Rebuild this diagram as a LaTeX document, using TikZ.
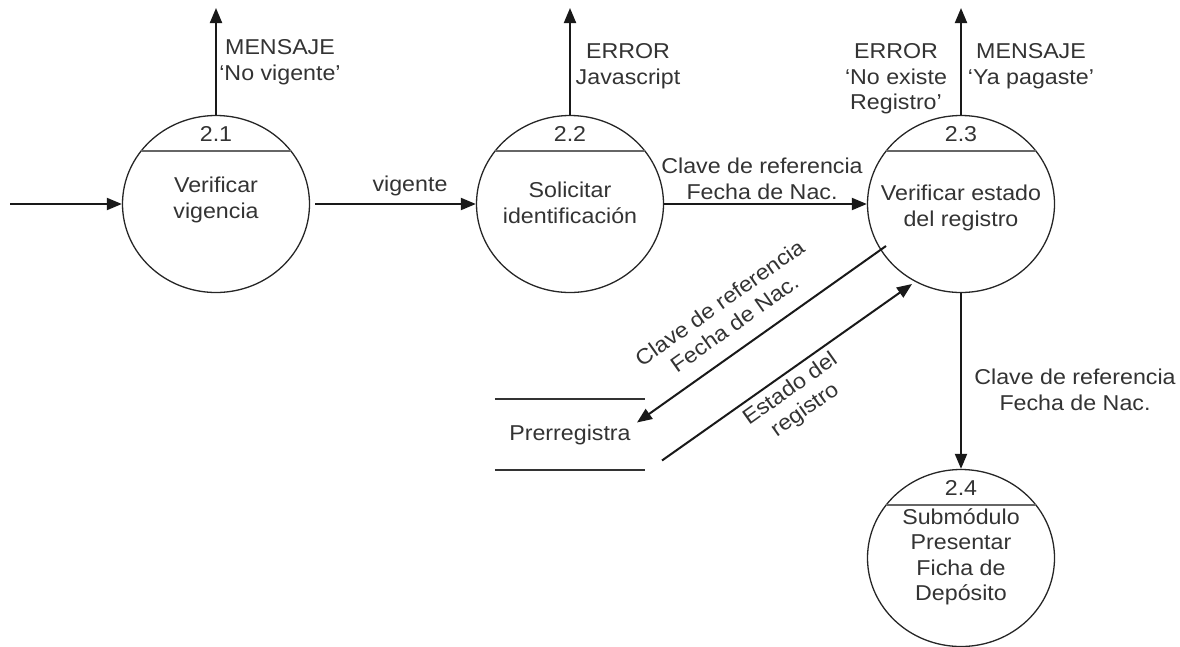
\documentclass[tikz,border=0pt]{standalone}
\usepackage{fontspec}
\setmainfont[FakeStretch=1.08]{Liberation Sans}
\usetikzlibrary{arrows.meta,shapes.geometric,calc}
\begin{document}
\begin{tikzpicture}[x=1pt,y=-1pt,
  proc/.style={ellipse, draw=black!85, line width=1.3pt, minimum width=187pt, minimum height=177pt, inner sep=0pt},
  lbl/.style={font=\fontsize{21.5}{25.5}\selectfont, text=black!80, align=center, inner sep=0pt},
  arr/.style={line width=2pt, draw=black!90, -{Triangle[length=15pt,width=12pt]}},
  divider/.style={line width=2pt, draw=black!60},
  storeline/.style={line width=2.2pt, draw=black!80}]
\useasboundingbox (0,0) rectangle (1180,646);

% processes
\node[proc] (c1) at (216,204) {};
\node[proc] (c2) at (570,204) {};
\node[proc] (c3) at (961,204) {};
\node[proc] (c4) at (961,558) {};

% numbers
\node[lbl] (n1) at (216,134) {2.1};
\node[lbl] (n2) at (570,134) {2.2};
\node[lbl] (n3) at (961,134) {2.3};
\node[lbl] (n4) at (961,488) {2.4};

% dividers
\draw[divider] ($(c1)+(-75,-53)$) -- ($(c1)+(75,-53)$);
\draw[divider] ($(c2)+(-75,-53)$) -- ($(c2)+(75,-53)$);
\draw[divider] ($(c3)+(-75,-53)$) -- ($(c3)+(75,-53)$);
\draw[divider] ($(c4)+(-75,-53)$) -- ($(c4)+(75,-53)$);

% texts
\node[lbl] (t1) at (216,200) {Verificar\\vigencia};
\node[lbl] (t2) at (570,203) {Solicitar\\identificación};
\node[lbl] (t3) at (961,208) {Verificar estado\\del registro};
\node[lbl] (t4) at (961,557) {Submódulo\\Presentar\\Ficha de\\Depósito};

% data store
\node[lbl, minimum width=150pt, minimum height=71pt] (s) at (570,434.5) {Prerregistra};
\draw[storeline] (s.north west) -- (s.north east);
\draw[storeline] (s.south west) -- (s.south east);

% connectors
\coordinate (in) at (10,204);
\coordinate (u1) at (216,8);
\coordinate (u2) at (570,8);
\coordinate (u3) at (961,8);
\draw[arr] (in) -- (c1);
\draw[arr, shorten <=5pt] (c1) -- (c2);
\draw[arr] (c2) -- (c3);
\draw[arr] (c1) -- (u1);
\draw[arr] (c2) -- (u2);
\draw[arr] (c3) -- (u3);
\draw[arr] (c3) -- (c4);

\coordinate (d1s) at ($(c3)+(-75,42)$);
\coordinate (d1e) at ($(s)+(67,-12)$);
\coordinate (d2s) at ($(s)+(92,26)$);
\coordinate (d2e) at ($(c3)+(-49,80)$);
\draw[arr] (d1s) -- (d1e);
\draw[arr] (d2s) -- (d2e);

% labels
\node[lbl] (lv) at (410,186) {vigente};
\node[lbl] (m1) at (280,62) {MENSAJE\\`No vigente'};
\node[lbl] (e2) at (628,66) {ERROR\\Javascript};
\node[lbl] (e3) at (896,79) {ERROR\\`No existe\\Registro'};
\node[lbl] (m3) at (1031,66) {MENSAJE\\`Ya pagaste'};
\node[lbl] (k2) at (762,179) {Clave de referencia\\Fecha de Nac.};
\node[lbl] (k4) at (1075,390) {Clave de referencia\\Fecha de Nac.};
\node[lbl, rotate=35.3] (k3) at (727,313) {Clave de referencia\\Fecha de Nac.};
\node[lbl, rotate=35.3] (k5) at (798,400) {Estado del\\registro};
\end{tikzpicture}
\end{document}
